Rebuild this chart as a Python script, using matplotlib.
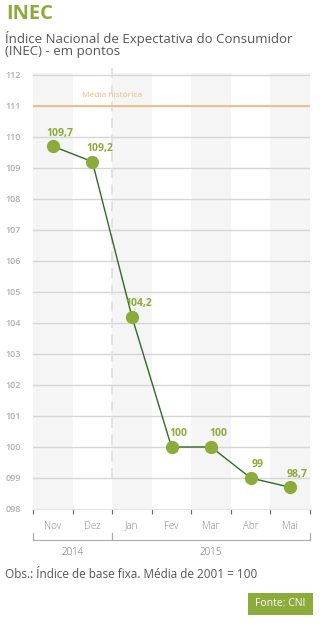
import matplotlib.pyplot as plt
from matplotlib.patches import Rectangle
import numpy as np

# data
months = ['Nov', 'Dez', 'Jan', 'Fev', 'Mar', 'Abr', 'Mai']
values = [109.7, 109.2, 104.2, 100, 100, 99, 98.7]
value_labels = ['109,7', '109,2', '104,2', '100', '100', '99', '98,7']
years = ['2014', '2015']
year_spans = [(0, 1), (2, 6)]
media_historica = 111
yticks = list(range(98, 113))

green = '#8bab3a'
dark_green = '#2f6b22'
grid_gray = '#d6d6d6'
label_gray = '#b0b0b0'
font = 'Open Sans'

plt.rcParams['font.family'] = [font, 'DejaVu Sans']

fig = plt.figure(figsize=(3.2, 6.32), dpi=100)
ax = fig.add_axes([33 / 320, 1 - 509 / 632, 277 / 320, 436 / 632])

x = np.arange(len(months))
ax.set_xlim(-0.5, len(months) - 0.5)
ax.set_ylim(98.0, 112.06)

# alternate column shading
for i in x:
    if i % 2 == 0:
        ax.axvspan(i - 0.5, i + 0.5, color='#f5f5f5', lw=0, zorder=0)

# gridlines
for v in yticks[1:]:
    ax.axhline(v, color=grid_gray, lw=1, zorder=1)

# historical mean
ax.axhline(media_historica, color='#efba77', lw=1.2, zorder=2)
ax.text(1.5, media_historica + 0.22, 'Média histórica', color='#efba77',
        fontsize=6, ha='center', va='bottom')

# year separator
ax.plot([1.5, 1.5], [99, 112.45], color='#dddddd', lw=1.2, ls=(0, (6, 4)),
        clip_on=False, zorder=1)

# series
ax.plot(x, values, color=dark_green, lw=1, zorder=3)
ax.plot(x, values, 'o', color=green, markersize=8.5, zorder=4)
for xi, v, lab in zip(x, values, value_labels):
    ax.text(xi + 0.18, v + 0.42, lab, color=green, fontsize=7.5,
            fontweight='bold', ha='center', va='center')

# y labels
ax.set_yticks(yticks)
ax.set_yticklabels(['%03d' % v for v in yticks], color=label_gray,
                   fontsize=6.5, fontweight='semibold')
ax.tick_params(axis='y', length=0, pad=20)
for lab in ax.get_yticklabels():
    lab.set_horizontalalignment('left')

# x ticks at boundaries
ax.set_xticks(np.arange(-0.5, len(months), 1))
ax.set_xticklabels([])
ax.tick_params(axis='x', direction='out', length=3.5, color='#666666', width=0.8)
for s in ax.spines.values():
    s.set_visible(False)
ax.spines['bottom'].set_visible(True)
ax.spines['bottom'].set_color('#e6e6e6')
ax.spines['bottom'].set_linewidth(0.8)

trans = ax.get_xaxis_transform()
for xi, m in zip(x, months):
    ax.text(xi, -0.045, m, transform=trans, ha='center', va='baseline',
            fontsize=7, color='#888888', fontweight='light')

# year brackets
for (a, b), yr in zip(year_spans, years):
    ax.plot([a - 0.5, a - 0.5, b + 0.5, b + 0.5], [-0.055, -0.07, -0.07, -0.055],
            transform=trans, color='#aaaaaa', lw=0.8, clip_on=False)
    ax.text((a + b) / 2, -0.1, yr, transform=trans, ha='center', va='center',
            fontsize=7, color='#666666', fontweight='light')

# titles
fig.text(6 / 320, 1 - 14 / 632, 'INEC', color=green, fontsize=14.5,
         fontweight='bold', va='center', ha='left')
fig.text(5 / 320, 1 - 38 / 632, 'Índice Nacional de Expectativa do Consumidor',
         color='#555555', fontsize=9.5, va='center', ha='left')
fig.text(5 / 320, 1 - 52 / 632, '(INEC) - em pontos',
         color='#555555', fontsize=9.5, va='center', ha='left')

# notes
fig.text(5 / 320, 1 - 575 / 632, 'Obs.: Índice de base fixa. Média de 2001 = 100',
         color='#555555', fontsize=8.5, va='center', ha='left')
fig.patches.append(Rectangle((248 / 320, 1 - 615 / 632), 65 / 320, 22 / 632,
                             transform=fig.transFigure, color=green, lw=0))
fig.text(280.5 / 320, 1 - 604 / 632, 'Fonte: CNI', color='white', fontsize=7.5,
         va='center', ha='center')

fig.savefig('out.png', dpi=100)
